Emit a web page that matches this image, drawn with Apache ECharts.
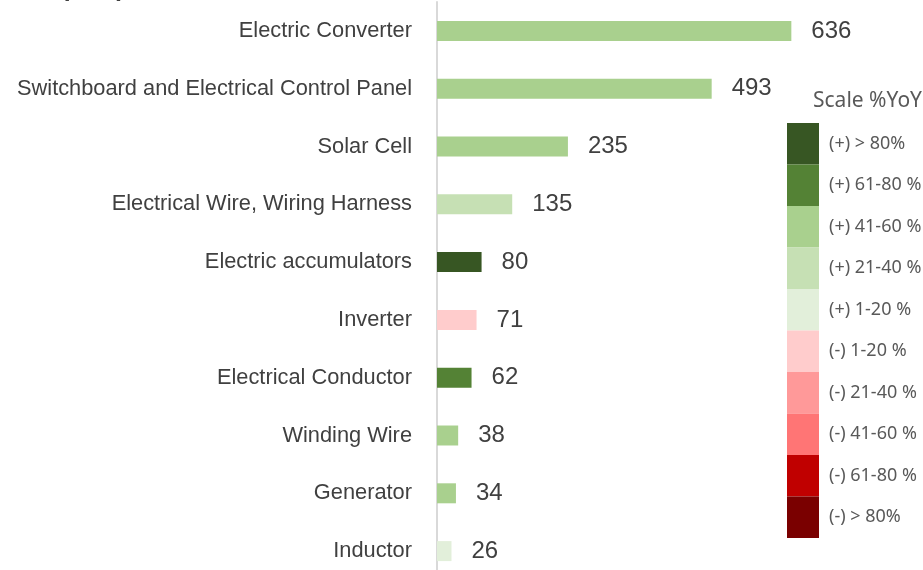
<!DOCTYPE html>
<html>
<head>
<meta charset="utf-8">
<script src="https://cdn.jsdelivr.net/npm/echarts@6/dist/echarts.min.js"></script>
<style>
  html, body { margin: 0; padding: 0; background: #fff; }
  #chart { width: 923px; height: 570px; }
</style>
</head>
<body>
<div id="chart"></div>
<script>
// categories, top to bottom
const categories = [
  'Electric Converter',
  'Switchboard and Electrical Control Panel',
  'Solar Cell',
  'Electrical Wire, Wiring Harness',
  'Electric accumulators',
  'Inverter',
  'Electrical Conductor',
  'Winding Wire',
  'Generator',
  'Inductor'
];
const values = [636, 493, 235, 135, 80, 71, 62, 38, 34, 26];
// YoY class of each bar: +5 = (+) > 80% ... -5 = (-) > 80%
const yoyClass = [3, 3, 3, 2, 5, -1, 4, 3, 3, 1];

// colour scale shown on the right
const scaleValues = [5, 4, 3, 2, 1, -1, -2, -3, -4, -5];
const scaleLabels = [
  '(+) > 80%', '(+) 61-80 %', '(+) 41-60 %', '(+) 21-40 %', '(+) 1-20 %',
  '(-) 1-20 %', '(-) 21-40 %', '(-) 41-60 %', '(-) 61-80 %', '(-) > 80%'
];
const scaleColors = [
  '#375623', '#548235', '#a9d08e', '#c6e0b4', '#e2efda',
  '#ffcccc', '#ff9999', '#ff7575', '#c00000', '#7a0000'
];

const SANS = '"Liberation Sans", Arial, sans-serif';
const TEXT_COLOR = '#404040';

const chart = echarts.init(document.getElementById('chart'));

const option = {
  animation: false,
  title: {
    text: 'Scale %YoY',
    left: 813,
    top: 91,
    padding: 0,
    textStyle: {
      fontFamily: '"Noto Sans", sans-serif',
      fontSize: 21,
      fontWeight: 'normal',
      color: '#595959'
    }
  },
  // bottom edge of the cut-off heading
  graphic: [{
    type: 'text',
    left: 35,
    top: -23,
    style: {
      text: 'Top Imports',
      font: 'bold 25px "Liberation Sans", sans-serif',
      fill: TEXT_COLOR
    }
  }],
  grid: {
    left: 437,
    right: 96,
    top: 2,
    bottom: -10,
    containLabel: false,
    outerBoundsMode: 'none'
  },
  xAxis: {
    type: 'value',
    min: 0,
    max: 700,
    show: false
  },
  yAxis: {
    type: 'category',
    data: categories,
    inverse: true,
    axisLine: {lineStyle: {color: '#d9d9d9', width: 2}},
    axisTick: {show: false},
    axisLabel: {
      margin: 25,
      fontFamily: SANS,
      fontSize: 21.8,
      color: TEXT_COLOR
    }
  },
  visualMap: {
    type: 'piecewise',
    seriesIndex: 0,
    dimension: 2,
    orient: 'vertical',
    align: 'left',
    left: 787,
    top: 123,
    padding: 0,
    itemWidth: 32,
    itemHeight: 41.5,
    itemGap: 0,
    textGap: 10,
    itemSymbol: 'rect',
    selectedMode: false,
    hoverLink: false,
    textStyle: {
      fontFamily: '"Noto Sans", sans-serif',
      fontSize: 18,
      color: '#595959'
    },
    pieces: scaleValues.map((v, i) => ({
      value: v,
      label: scaleLabels[i],
      color: scaleColors[i]
    }))
  },
  series: [{
    type: 'bar',
    barWidth: 20,
    data: values.map((v, i) => [v, categories[i], yoyClass[i]]),
    encode: {x: 0, y: 1},
    label: {
      show: true,
      position: 'right',
      distance: 20,
      fontFamily: SANS,
      fontSize: 24,
      color: TEXT_COLOR,
      formatter: (p) => p.value[0]
    }
  }]
};

chart.setOption(option);
</script>
</body>
</html>
